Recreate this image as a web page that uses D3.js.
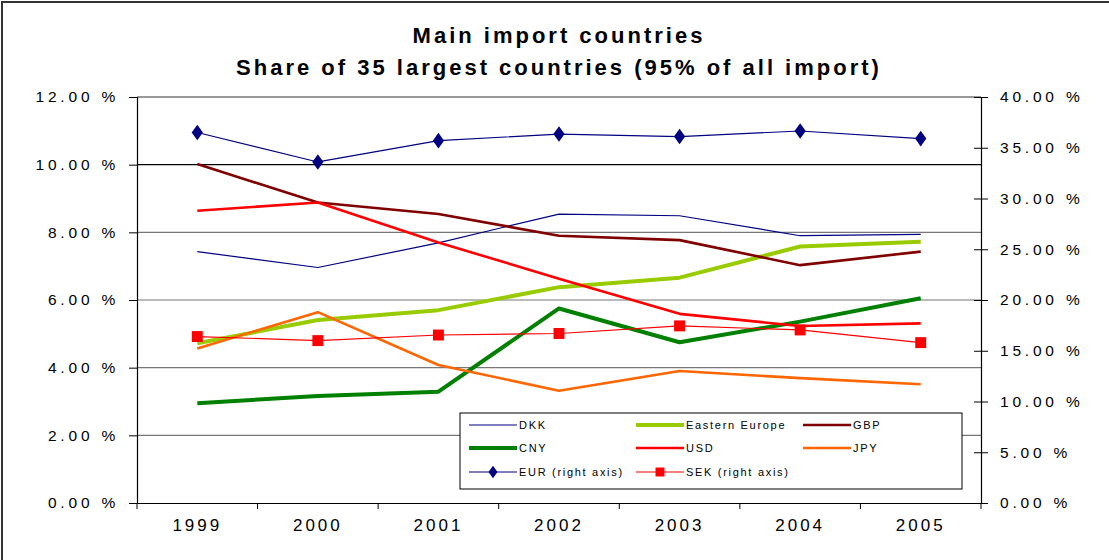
<!DOCTYPE html>
<html>
<head>
<meta charset="utf-8">
<script src="https://cdn.jsdelivr.net/npm/d3@7"></script>
<style>
  body { margin: 0; background: #fff; }
  svg { font-family: "Liberation Sans", Arial, sans-serif; }
  .title { font-weight: bold; font-size: 22px; letter-spacing: 3px; }
  .yaxis text { font-size: 15.5px; letter-spacing: 3.8px; fill: #000; }
  .xaxis text { font-size: 17px; letter-spacing: 3px; fill: #000; }
  .legend text { font-size: 11px; letter-spacing: 1.7px; }
</style>
</head>
<body>
<svg id="chart" width="1109" height="560"></svg>
<script>
const years = ["1999", "2000", "2001", "2002", "2003", "2004", "2005"];

// left axis series (% of import)
const dkk = [7.43, 6.96, 7.69, 8.54, 8.49, 7.90, 7.94];
const easternEurope = [4.72, 5.41, 5.70, 6.38, 6.66, 7.58, 7.72];
const gbp = [10.02, 8.88, 8.54, 7.90, 7.77, 7.03, 7.43];
const cny = [2.95, 3.16, 3.29, 5.75, 4.75, 5.36, 6.05];
const usd = [8.64, 8.88, 7.70, 6.63, 5.59, 5.23, 5.31];
const jpy = [4.57, 5.64, 4.08, 3.32, 3.90, 3.69, 3.51];

// right axis series
const eur = [36.5, 33.6, 35.7, 36.35, 36.1, 36.65, 35.9];
const sek = [16.4, 16.0, 16.55, 16.7, 17.45, 17.05, 15.8];

const leftTicks = [0, 2, 4, 6, 8, 10, 12];
const rightTicks = [0, 5, 10, 15, 20, 25, 30, 35, 40];

const titleLines = ["Main import countries", "Share of 35 largest countries (95% of all import)"];

const series = [
  {name: "DKK", values: dkk, axis: "left", color: "#000080", width: 1.2},
  {name: "Eastern Europe", values: easternEurope, axis: "left", color: "#99CC00", width: 4},
  {name: "GBP", values: gbp, axis: "left", color: "#800000", width: 2.6},
  {name: "CNY", values: cny, axis: "left", color: "#008000", width: 4},
  {name: "USD", values: usd, axis: "left", color: "#FF0000", width: 2.6},
  {name: "JPY", values: jpy, axis: "left", color: "#FF6600", width: 2.6},
  {name: "EUR (right axis)", values: eur, axis: "right", color: "#000080", width: 1.2, marker: "diamond"},
  {name: "SEK (right axis)", values: sek, axis: "right", color: "#FF0000", width: 1.2, marker: "square"}
];

const width = 1109, height = 560;
const margin = {top: 97, right: 128, bottom: 57, left: 137};

const svg = d3.select("#chart");

// outer frame (only top/left visible in the picture)
svg.append("rect")
  .attr("x", 2).attr("y", 2)
  .attr("width", width + 10).attr("height", height + 10)
  .attr("fill", "none")
  .attr("stroke", "#333")
  .attr("stroke-width", 2);

const x = d3.scaleBand()
  .domain(years)
  .range([margin.left, width - margin.right]);

const yLeft = d3.scaleLinear()
  .domain([0, 12])
  .range([height - margin.bottom, margin.top]);

const yRight = d3.scaleLinear()
  .domain([0, 40])
  .range([height - margin.bottom, margin.top]);

// gridlines
svg.append("g")
  .selectAll("line")
  .data(leftTicks.filter(d => d > 0))
  .join("line")
  .attr("x1", margin.left).attr("x2", width - margin.right)
  .attr("y1", d => yLeft(d)).attr("y2", d => yLeft(d))
  .attr("stroke", d => d === 12 ? "#999" : d === 10 ? "#000" : "#777")
  .attr("stroke-width", d => d === 12 ? 2 : 1.2);

// title
svg.append("g")
  .selectAll("text")
  .data(titleLines)
  .join("text")
  .attr("class", "title")
  .attr("x", 559)
  .attr("y", (d, i) => 43 + i * 32)
  .attr("text-anchor", "middle")
  .text(d => d);

// axes
const fmt = d => d.toFixed(2) + " %";

svg.append("g")
  .attr("class", "yaxis")
  .attr("transform", `translate(${margin.left},0)`)
  .call(d3.axisLeft(yLeft).tickValues(leftTicks).tickFormat(fmt).tickSize(8).tickPadding(10))
  .call(g => g.select(".domain").attr("stroke", "#000").attr("stroke-width", 1.2));

svg.append("g")
  .attr("class", "yaxis")
  .attr("transform", `translate(${width - margin.right},0)`)
  .call(d3.axisRight(yRight).tickValues(rightTicks).tickFormat(fmt).tickSize(7).tickPadding(12))
  .call(g => g.select(".domain").attr("stroke", "#000").attr("stroke-width", 1.2))
  .call(g => g.selectAll(".tick line").attr("x1", -7));

const xAxis = svg.append("g")
  .attr("class", "xaxis")
  .attr("transform", `translate(0,${height - margin.bottom})`)
  .call(d3.axisBottom(x).tickSize(0).tickPadding(16))
  .call(g => g.select(".domain").attr("stroke", "#000").attr("stroke-width", 1.2));

// x ticks on band edges
xAxis.append("g")
  .selectAll("line")
  .data(years.concat(["end"]))
  .join("line")
  .attr("x1", (d, i) => i < years.length ? x(d) : x.range()[1])
  .attr("x2", (d, i) => i < years.length ? x(d) : x.range()[1])
  .attr("y1", 0).attr("y2", 6)
  .attr("stroke", "#000");

// lines
const cx = d => x(d) + x.bandwidth() / 2;

const lineGroup = svg.append("g");
series.forEach(s => {
  const y = s.axis === "left" ? yLeft : yRight;
  const line = d3.line()
    .x((v, i) => cx(years[i]))
    .y(v => y(v));
  lineGroup.append("path")
    .datum(s.values)
    .attr("fill", "none")
    .attr("stroke", s.color)
    .attr("stroke-width", s.width)
    .attr("stroke-linejoin", "round")
    .attr("d", line);

  if (s.marker) {
    const sym = s.marker === "diamond" ? d3.symbolDiamond : d3.symbolSquare;
    const size = s.marker === "diamond" ? 70 : 120;
    lineGroup.append("g")
      .selectAll("path")
      .data(s.values)
      .join("path")
      .attr("transform", (v, i) => `translate(${cx(years[i])},${y(v)})` + (s.marker === "diamond" ? " scale(1.25,1)" : ""))
      .attr("d", d3.symbol().type(sym).size(size))
      .attr("fill", s.color);
  }
});

// legend
const legend = svg.append("g").attr("class", "legend");
legend.append("rect")
  .attr("x", 460).attr("y", 413)
  .attr("width", 502).attr("height", 76)
  .attr("fill", "#fff")
  .attr("stroke", "#000")
  .attr("stroke-width", 1);

const colX = [469, 636, 803];
const rowY = [425, 448, 472];

series.forEach((s, i) => {
  const lx = colX[i % 3], ly = rowY[Math.floor(i / 3)];
  const item = legend.append("g").attr("transform", `translate(${lx},${ly})`);
  item.append("line")
    .attr("x1", 0).attr("x2", 48)
    .attr("y1", 0).attr("y2", 0)
    .attr("stroke", s.color)
    .attr("stroke-width", s.width);
  if (s.marker) {
    item.append("path")
      .attr("transform", "translate(24,0)" + (s.marker === "diamond" ? " scale(1.25,1)" : ""))
      .attr("d", d3.symbol().type(s.marker === "diamond" ? d3.symbolDiamond : d3.symbolSquare).size(s.marker === "diamond" ? 45 : 80))
      .attr("fill", s.color);
  }
  item.append("text")
    .attr("x", 50)
    .attr("y", 4)
    .text(s.name);
});
</script>
</body>
</html>
